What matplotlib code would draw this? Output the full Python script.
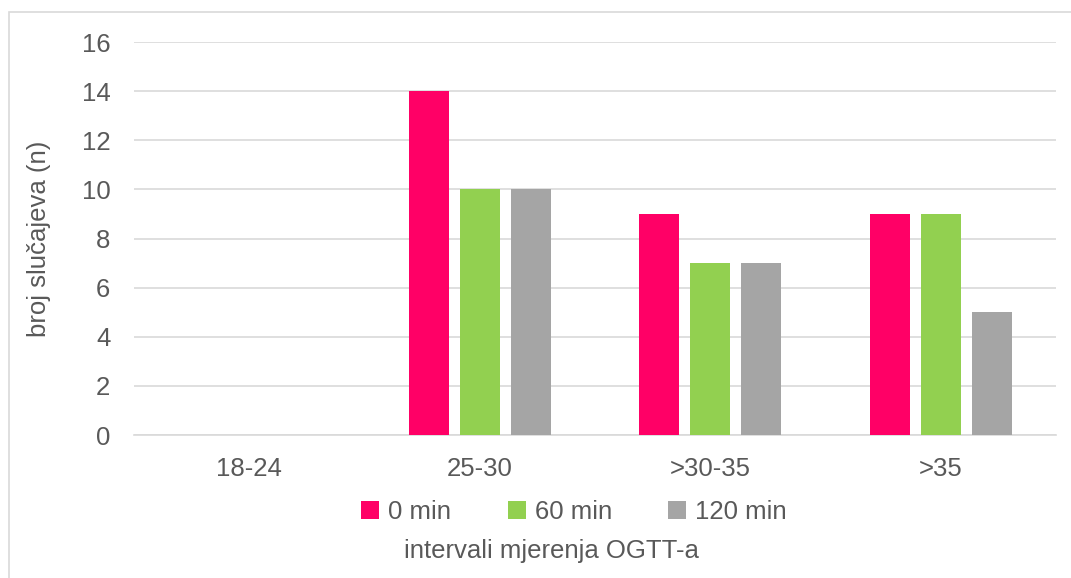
import matplotlib.pyplot as plt
import numpy as np
from matplotlib.patches import Rectangle

categories = ["18-24", "25-30", ">30-35", ">35"]
series_names = ["0 min", "60 min", "120 min"]
vals_0 = [0, 14, 9, 9]
vals_60 = [0, 10, 7, 9]
vals_120 = [0, 10, 7, 5]
colors = ["#FF0066", "#92D050", "#A5A5A5"]

FS = 18.5
plt.rcParams.update({"font.family": "Liberation Sans", "font.size": FS,
                     "text.color": "#595959", "axes.labelcolor": "#595959",
                     "xtick.color": "#595959", "ytick.color": "#595959"})

fig = plt.figure(figsize=(10.71, 5.78), dpi=100)
ax = fig.add_axes([0.1251, 0.2474, 0.8609, 0.6799])

# light frame around the chart area
fig.patches.append(Rectangle((9 / 1071, -0.01), 1.02, 1 - 12 / 578 + 0.01,
                             transform=fig.transFigure, fill=False,
                             edgecolor="#D9D9D9", lw=1.2))

x = np.arange(len(categories))
w = 0.173
step = 0.221
for i, (vals, name) in enumerate(zip([vals_0, vals_60, vals_120], series_names)):
    ax.bar(x + (i - 1) * step, vals, w, color=colors[i], label=name, zorder=3)

ax.set_xlim(-0.5, len(categories) - 0.5)
ax.set_ylim(0, 16)
ax.set_yticks(range(0, 17, 2))
ax.set_xticks(x)
ax.set_xticklabels(categories)
ax.grid(axis="y", color="#D9D9D9", lw=1.2, zorder=0)
for s in ("top", "right", "left"):
    ax.spines[s].set_visible(False)
ax.spines["bottom"].set_color("#D9D9D9")
ax.spines["bottom"].set_linewidth(1.2)
ax.tick_params(axis="both", length=0, labelsize=FS)
ax.tick_params(axis="y", pad=17)
ax.tick_params(axis="x", pad=16)
ax.set_ylabel("broj slučajeva (n)", fontsize=FS, labelpad=22)

fig.legend(loc="center", bbox_to_anchor=(0.536, 1 - 512 / 578), ncol=3,
           frameon=False, fontsize=FS, handlelength=0.7, handleheight=0.7,
           handletextpad=0.35, columnspacing=2.2)
fig.text(0.515, 1 - 551 / 578, "intervali mjerenja OGTT-a", ha="center",
         va="center", fontsize=FS)

fig.savefig("out.png", dpi=100)
